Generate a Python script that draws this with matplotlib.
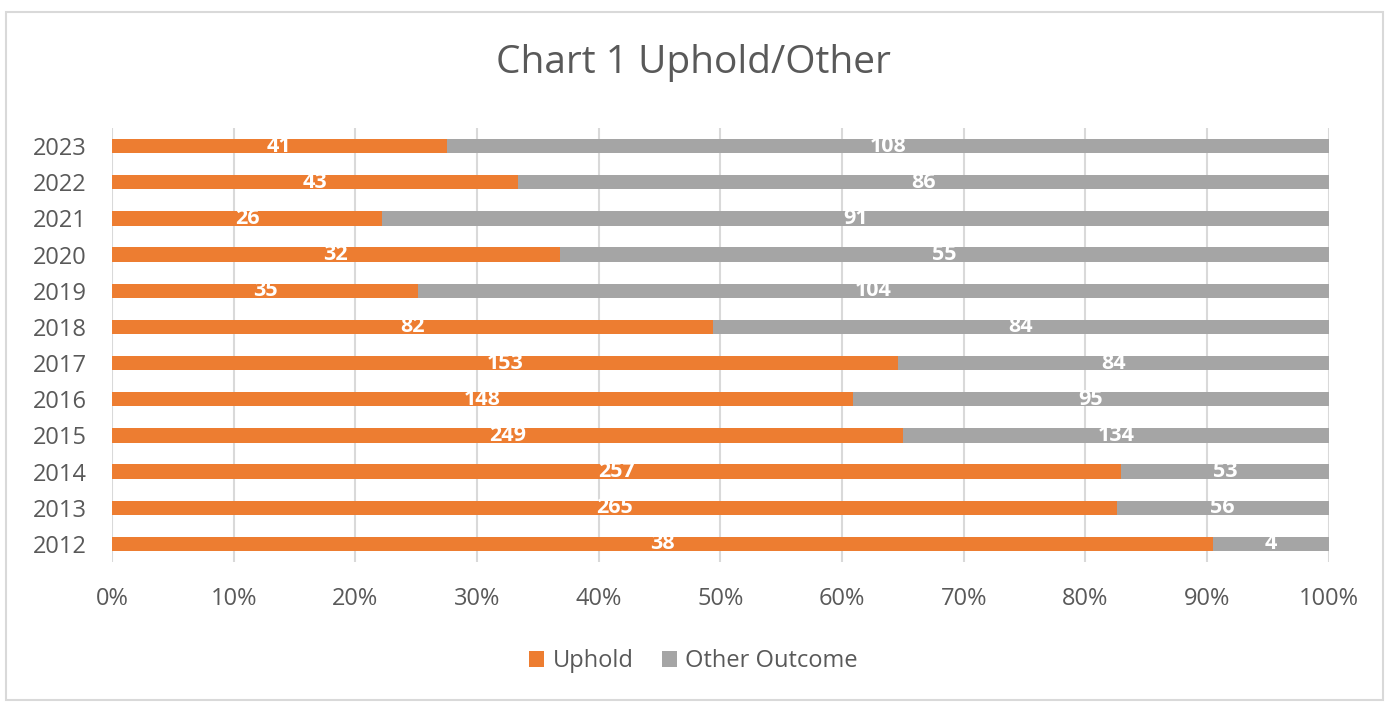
import matplotlib
matplotlib.use("Agg")
import matplotlib.pyplot as plt
import numpy as np

years = ["2012", "2013", "2014", "2015", "2016", "2017", "2018", "2019", "2020", "2021", "2022", "2023"]
uphold = [38, 265, 257, 249, 148, 153, 82, 35, 32, 26, 43, 41]
other = [4, 56, 53, 134, 95, 84, 84, 104, 55, 91, 86, 108]

plt.rcParams["font.family"] = ["Open Sans", "DejaVu Sans"]

up = np.array(uphold, dtype=float)
ot = np.array(other, dtype=float)
total = up + ot
up_pct = up / total
ot_pct = ot / total

fig = plt.figure(figsize=(13.87, 7.02), dpi=100)
ax = fig.add_axes([0.0807, 0.1994, 0.8774, 0.6183])

y = np.arange(len(years))
h = 0.4
orange = "#ED7D31"
grey = "#A5A5A5"
ax.barh(y, up_pct, height=h, color=orange, label="Uphold", zorder=2)
ax.barh(y, ot_pct, left=up_pct, height=h, color=grey, label="Other Outcome", zorder=2)

for i in range(len(years)):
    ax.text(up_pct[i] / 2, y[i], str(uphold[i]), ha="center", va="center",
            color="white", fontsize=15.5, fontweight="bold", zorder=3)
    ax.text(up_pct[i] + ot_pct[i] / 2, y[i], str(other[i]), ha="center", va="center",
            color="white", fontsize=15.5, fontweight="bold", zorder=3)

ax.set_xlim(0, 1)
ax.set_ylim(-0.5, len(years) - 0.5)
ax.set_xticks(np.linspace(0, 1, 11))
ax.set_xticklabels([f"{int(v)}%" for v in np.linspace(0, 100, 11)])
ax.set_yticks(y)
ax.set_yticklabels(years)
ax.tick_params(axis="both", length=0, labelsize=17, labelcolor="#595959")
ax.tick_params(axis="x", pad=18)
ax.tick_params(axis="y", pad=18)
ax.grid(axis="x", color="#D9D9D9", linewidth=1.5, zorder=0)
for s in ax.spines.values():
    s.set_visible(False)

fig.text(0.5, 0.91, "Chart 1 Uphold/Other", ha="center", va="center",
         fontsize=28, color="#595959")

fig.legend(loc="center", bbox_to_anchor=(0.5, 0.058), ncol=2, frameon=False,
           fontsize=17, handlelength=0.65, handleheight=0.65, columnspacing=1.2,
           handletextpad=0.35, labelcolor="#595959")

fig.patches.append(plt.Rectangle((6 / 1387, 2 / 702), 1377 / 1387, 688 / 702,
                                 transform=fig.transFigure, fill=False,
                                 edgecolor="#D9D9D9", linewidth=1.5))

fig.savefig("out.png", dpi=100)
